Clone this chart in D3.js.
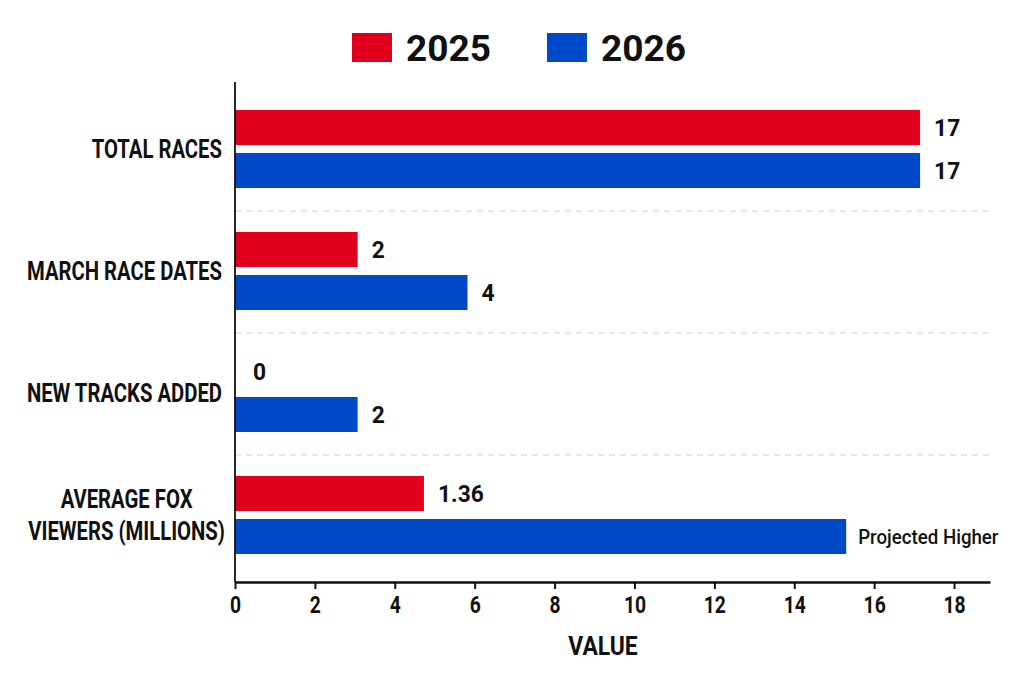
<!DOCTYPE html>
<html lang="en">

<head>
	<meta charset="UTF-8">
	<title>race comparison</title>
	<script src="https://cdn.jsdelivr.net/npm/d3@7"></script>
	<style>
		body { margin: 0; background: #fff; }
		text { font-family: Roboto, "Liberation Sans", sans-serif; font-weight: bold; fill: #111; }
	</style>
</head>

<body>
	<div id="chart"></div>

	<script type="text/javascript">
	// categories and series
	let categories = ['TOTAL RACES', 'MARCH RACE DATES', 'NEW TRACKS ADDED', 'AVERAGE FOX|VIEWERS (MILLIONS)'];
	let seriesNames = ['2025', '2026'];
	// drawn bar lengths (as they appear against the axis)
	let values2025 = [17.15, 3.07, 0, 4.73];
	let values2026 = [17.15, 5.82, 3.07, 15.3];
	// printed labels next to bars
	let labels2025 = ['17', '2', '0', '1.36'];
	let labels2026 = ['17', '4', '2', 'Projected Higher'];
	let xTicks = [0, 2, 4, 6, 8, 10, 12, 14, 16, 18];

	let colors = ['#e0001d', '#0049c8'];

	let width = 1024,
		height = 683;
	let margin = { top: 88, right: 34, bottom: 107, left: 235 };

	let svg = d3.select('#chart')
		.append('svg')
		.attr('width', width)
		.attr('height', height);

	// squeeze a text horizontally around its anchor point (no narrow font installed)
	function condense(sel, f) {
		sel.each(function() {
			let t = d3.select(this);
			let tx = +t.attr('x') || 0, ty = +t.attr('y') || 0;
			t.attr('x', 0).attr('y', 0)
				.attr('transform', 'translate(' + tx + ',' + ty + ') scale(' + f + ',1)');
		});
	}

	let x = d3.scaleLinear().domain([0, 18.9]).range([margin.left, width - margin.right]);
	let y = d3.scaleBand().domain(categories).range([margin.top, height - margin.bottom]);
	let inner = d3.scaleBand().domain(seriesNames)
		.range([y.bandwidth() / 2 - 39, y.bandwidth() / 2 + 39]).paddingInner(0.186);

	// dashed separators between groups
	svg.selectAll('line.sep')
		.data(categories.slice(1))
		.enter().append('line')
		.attr('class', 'sep')
		.attr('x1', margin.left)
		.attr('x2', width - margin.right)
		.attr('y1', d => y(d) + 1)
		.attr('y2', d => y(d) + 1)
		.attr('stroke', '#d0d0d0')
		.attr('stroke-width', 1)
		.attr('stroke-dasharray', '6,5');

	let rows = categories.map((c, i) => ({
		cat: c,
		bars: [
			{ s: '2025', v: values2025[i], label: labels2025[i], color: colors[0] },
			{ s: '2026', v: values2026[i], label: labels2026[i], color: colors[1] }
		]
	}));

	let group = svg.selectAll('g.grp')
		.data(rows)
		.enter().append('g')
		.attr('class', 'grp')
		.attr('transform', d => 'translate(0,' + y(d.cat) + ')');

	group.selectAll('rect')
		.data(d => d.bars)
		.enter().append('rect')
		.attr('x', x(0))
		.attr('y', d => inner(d.s))
		.attr('width', d => x(d.v) - x(0))
		.attr('height', inner.bandwidth())
		.attr('fill', d => d.color);

	let vals = group.selectAll('text.val')
		.data(d => d.bars)
		.enter().append('text')
		.attr('class', 'val')
		.attr('x', d => x(d.v) + (d.label.length > 5 ? 12 : d.v === 0 ? 18 : 14))
		.attr('y', d => inner(d.s) + inner.bandwidth() / 2)
		.attr('dy', '0.36em')
		.attr('font-size', d => d.label.length > 5 ? '21px' : '24px')
		.style('font-weight', d => d.label.length > 5 ? 500 : 700)
		.text(d => d.label);
	condense(vals.filter(d => d.label.length > 5), 0.89);
	condense(vals.filter(d => d.label.length <= 5), 0.95);

	// category labels; two-line labels are centred on each other
	let labelSize = 26, labelSqueeze = 0.78, labelRight = margin.left - 13;
	group.each(function(d) {
		let lines = d.cat.split('|');
		let g = d3.select(this);
		let texts = lines.map((l, k) => g.append('text')
			.attr('font-size', labelSize + 'px')
			.attr('y', y.bandwidth() / 2 + (k - (lines.length - 1) / 2) * 32)
			.attr('dy', '0.36em')
			.text(l));
		if (lines.length === 1) {
			texts[0].attr('text-anchor', 'end').attr('x', labelRight).call(condense, labelSqueeze);
		} else {
			let w = d3.max(texts, t => t.node().getComputedTextLength()) * labelSqueeze;
			texts.forEach(t => t.attr('text-anchor', 'middle')
				.attr('x', labelRight + 3 - w / 2)
				.call(condense, labelSqueeze));
		}
	});

	// axes
	let axisY = height - margin.bottom + 6;
	let xAxis = d3.axisBottom(x).tickValues(xTicks).tickSize(7).tickPadding(7).tickSizeOuter(0);
	let gx = svg.append('g')
		.attr('transform', 'translate(0,' + axisY + ')')
		.call(xAxis);
	gx.select('.domain').attr('stroke', '#111').attr('stroke-width', 2.5);
	gx.selectAll('.tick line').attr('stroke', '#111').attr('stroke-width', 2);
	gx.selectAll('.tick text')
		.attr('font-family', null)
		.attr('font-size', '23px')
		.attr('fill', '#111')
		.each(function() {
			let t = d3.select(this);
			t.attr('y', +t.attr('y') + 9).attr('dy', '0.36em');
		})
		.call(condense, 0.84);

	svg.append('line')
		.attr('x1', x(0)).attr('x2', x(0))
		.attr('y1', margin.top - 6)
		.attr('y2', axisY)
		.attr('stroke', '#111')
		.attr('stroke-width', 1.8);

	svg.append('text')
		.attr('x', 603)
		.attr('y', 646)
		.attr('dy', '0.36em')
		.attr('text-anchor', 'middle')
		.attr('font-size', '26px')
		.text('VALUE')
		.call(condense, 0.88);

	// legend
	let legX = [352, 547];
	let legend = svg.selectAll('g.leg')
		.data(seriesNames)
		.enter().append('g')
		.attr('class', 'leg')
		.attr('transform', (d, i) => 'translate(' + legX[i] + ',33)');
	legend.append('rect')
		.attr('width', 40)
		.attr('height', 29)
		.attr('fill', (d, i) => colors[i]);
	legend.append('text')
		.attr('x', 54)
		.attr('y', 15)
		.attr('dy', '0.36em')
		.attr('font-size', '37px')
		.text(d => d);
	</script>
</body>

</html>
